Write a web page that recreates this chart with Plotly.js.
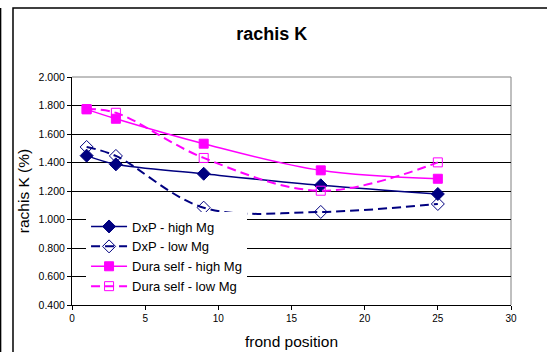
<!DOCTYPE html>
<html>
<head>
<meta charset="utf-8">
<script src="https://cdn.plot.ly/plotly-3.0.1.min.js"></script>
<style>html,body{margin:0;padding:0;background:#fff;}#chart{width:547px;height:352px;}</style>
</head>
<body>
<div id="chart"></div>
<script>
var frondPosition = [1, 3, 9, 17, 25];
var dxpHighMg = [1.448, 1.387, 1.321, 1.240, 1.179];
var dxpLowMg = [1.509, 1.446, 1.083, 1.053, 1.109];
var duraHighMg = [1.773, 1.707, 1.532, 1.345, 1.286];
var duraLowMg = [1.775, 1.749, 1.432, 1.202, 1.401];
var seriesNames = ["DxP - high Mg", "DxP - low Mg", "Dura self - high Mg", "Dura self - low Mg"];
var yTickVals = [0.4, 0.6, 0.8, 1.0, 1.2, 1.4, 1.6, 1.8, 2.0];
var yTickText = ["0.400", "0.600", "0.800", "1.000", "1.200", "1.400", "1.600", "1.800", "2.000"];
var xTickVals = [0, 5, 10, 15, 20, 25, 30];

var NAVY = "#000080", MAG = "#FF00FF";
var FONT = "Liberation Sans, Arial, sans-serif";

var traces = [
  {x: frondPosition, y: dxpHighMg, name: seriesNames[0], mode: "lines+markers",
   line: {color: NAVY, width: 1.5, shape: "spline", smoothing: 1},
   marker: {symbol: "diamond", size: 10, color: NAVY, line: {color: NAVY, width: 1}}},
  {x: frondPosition, y: dxpLowMg, name: seriesNames[1], mode: "lines+markers",
   line: {color: NAVY, width: 2, dash: "9px,5px", shape: "spline", smoothing: 1},
   marker: {symbol: "diamond-open", size: 10, color: NAVY, line: {color: NAVY, width: 1}}},
  {x: frondPosition, y: duraHighMg, name: seriesNames[2], mode: "lines+markers",
   line: {color: MAG, width: 1.5, shape: "spline", smoothing: 1},
   marker: {symbol: "square", size: 9, color: MAG, line: {color: MAG, width: 1}}},
  {x: frondPosition, y: duraLowMg, name: seriesNames[3], mode: "lines+markers",
   line: {color: MAG, width: 2, dash: "9px,5px", shape: "spline", smoothing: 1},
   marker: {symbol: "square-open", size: 9, color: MAG, line: {color: MAG, width: 1}}}
];

var layout = {
  width: 547, height: 352,
  margin: {l: 72, r: 36, t: 77, b: 47, pad: 0},
  paper_bgcolor: "#fff", plot_bgcolor: "#fff",
  font: {family: FONT, color: "#000"},
  title: {text: "<b>rachis K</b>", font: {size: 18, family: FONT, color: "#000"},
          x: 0.497, xanchor: "center", y: 0.905, yanchor: "middle"},
  xaxis: {range: [0, 30], tickvals: xTickVals, ticks: "outside", ticklen: 4, tickcolor: "#000",
          showline: true, linecolor: "#000", linewidth: 1, showgrid: false, zeroline: false,
          tickfont: {size: 10, family: FONT}, fixedrange: true,
          title: {text: "frond position", font: {size: 15.5, family: FONT}, standoff: 13}},
  yaxis: {range: [0.4, 2.0], tickvals: yTickVals, ticktext: yTickText, ticks: "outside", ticklen: 4,
          tickcolor: "#000", showline: true, linecolor: "#000", linewidth: 1,
          showgrid: true, gridcolor: "#000", gridwidth: 1, zeroline: false,
          tickfont: {size: 10.5, family: FONT}, fixedrange: true,
          title: {text: "rachis K (%)", font: {size: 15.5, family: FONT}, standoff: 5}},
  legend: {x: 0.032, y: 0.41, xanchor: "left", yanchor: "top", bgcolor: "#fff",
           borderwidth: 0, font: {size: 13, family: FONT}, tracegroupgap: 0, itemwidth: 36},
  showlegend: true,
  shapes: [
    {type: "line", xref: "paper", yref: "paper", x0: 0, x1: 1, y0: 1, y1: 1,
     line: {color: "#808080", width: 1}, layer: "between"},
    {type: "line", xref: "paper", yref: "paper", x0: 1, x1: 1, y0: 0, y1: 1,
     line: {color: "#808080", width: 1}, layer: "between"},
    {type: "rect", xref: "paper", yref: "paper", x0: -0.1344, x1: 1.12, y0: -0.25, y1: 1.3026,
     line: {color: "#000", width: 1.5}, fillcolor: "rgba(0,0,0,0)", layer: "above"},
    {type: "line", xref: "paper", yref: "paper", x0: -0.1627, x1: -0.1627, y0: -0.25, y1: 1.3026,
     line: {color: "#000", width: 1.5}, layer: "above"}
  ]
};

Plotly.newPlot("chart", traces, layout, {displayModeBar: false, staticPlot: true});
</script>
</body>
</html>
